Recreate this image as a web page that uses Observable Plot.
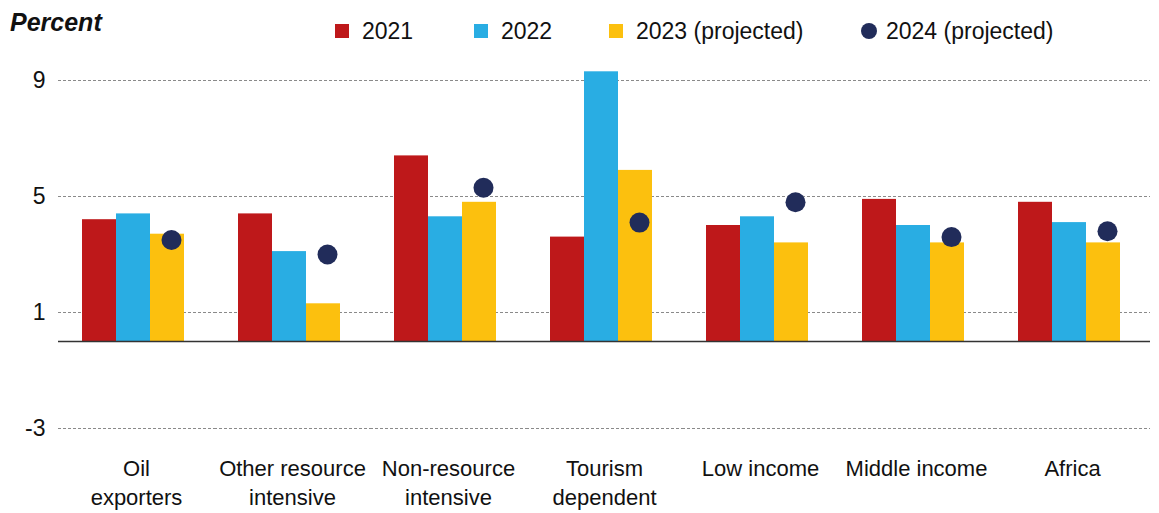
<!DOCTYPE html>
<html><head><meta charset="utf-8">
<script src="https://cdn.jsdelivr.net/npm/d3@7"></script>
<script src="https://cdn.jsdelivr.net/npm/@observablehq/plot@0.6"></script>
<style>
body{margin:0;background:#fff;font-family:"Liberation Sans",Arial,sans-serif;color:#111;}
#wrap{position:relative;width:1159px;height:513px;overflow:hidden;}
#head{position:relative;height:50px;}
#unit{position:absolute;left:10px;top:8px;font-size:25px;font-style:italic;font-weight:bold;}
.li{position:absolute;top:18px;font-size:23px;line-height:26px;display:flex;align-items:center;white-space:nowrap;}
.sw{display:inline-block;width:14px;height:14px;margin-right:13px;}
.dotsw{display:inline-block;width:16px;height:16px;border-radius:50%;margin-right:9px;}
</style></head><body>
<div id="wrap"><div id="head"><div id="unit">Percent</div></div><div id="chart"></div></div>
<script>
const categories = ["Oil\nexporters","Other resource\nintensive","Non-resource\nintensive","Tourism\ndependent","Low income","Middle income","Africa"];
const series = ["2021","2022","2023 (projected)","2024 (projected)"];
const v2021 = [4.2, 4.4, 6.4, 3.6, 4.0, 4.9, 4.8];
const v2022 = [4.4, 3.1, 4.3, 9.3, 4.3, 4.0, 4.1];
const v2023 = [3.7, 1.3, 4.8, 5.9, 3.4, 3.4, 3.4];
const v2024 = [3.5, 3.0, 5.3, 4.1, 4.8, 3.6, 3.8];
const yTicks = [-3, 1, 5, 9];
const colors = ["#BE181A","#29ADE3","#FCC00E","#212C5A"];

const barSeries = series.slice(0,3);
const barVals = [v2021, v2022, v2023];
const bars = categories.flatMap((c,i)=> barSeries.map((s,j)=>({cat:c, s, value:barVals[j][i]})));
const dots = categories.map((c,i)=>({cat:c, s:series[2], value:v2024[i]}));

// legend
const head = document.getElementById("head");
const legendLeft = [335, 474, 609, 861];
series.forEach((s,i)=>{
  const d = document.createElement("div");
  d.className = "li";
  d.style.left = legendLeft[i] + "px";
  const sw = document.createElement("span");
  sw.className = i===3 ? "dotsw" : "sw";
  sw.style.background = colors[i];
  d.appendChild(sw);
  d.appendChild(document.createTextNode(s));
  head.appendChild(d);
});

const chart = Plot.plot({
  width: 1159, height: 463,
  marginTop: 30, marginBottom: 85, marginLeft: 58, marginRight: 9,
  style: {fontFamily: "Liberation Sans, Arial, sans-serif", color: "#111", background: "#fff"},
  fx: {domain: categories, padding: 0, label: null},
  x: {domain: barSeries, paddingInner: 0, paddingOuter: 0.7286, align: 0.451, axis: null},
  y: {domain: [-3, 9]},
  color: {domain: series, range: colors},
  marks: [
    Plot.ruleY(yTicks, {stroke: "#8a8a8a", strokeWidth: 1, strokeDasharray: "3,2"}),
    Plot.barY(bars, {fx: "cat", x: "s", y: "value", fill: "s"}),
    Plot.ruleY([0], {stroke: "#333", strokeWidth: 1.5}),
    Plot.dot(dots, {fx: "cat", x: "s", y: "value", r: 10, fill: colors[3], stroke: "none", dx: 4}),
    Plot.axisY(yTicks, {tickSize: 0, tickPadding: 13, fontSize: 23, label: null, fill: "#111", tickFormat: d => String(d)}),
    Plot.axisFx({anchor: "bottom", tickSize: 0, tickPadding: 27, fontSize: 22, lineHeight: 1.32, label: null, fill: "#111"})
  ]
});
document.getElementById("chart").appendChild(chart);
</script>
</body></html>
